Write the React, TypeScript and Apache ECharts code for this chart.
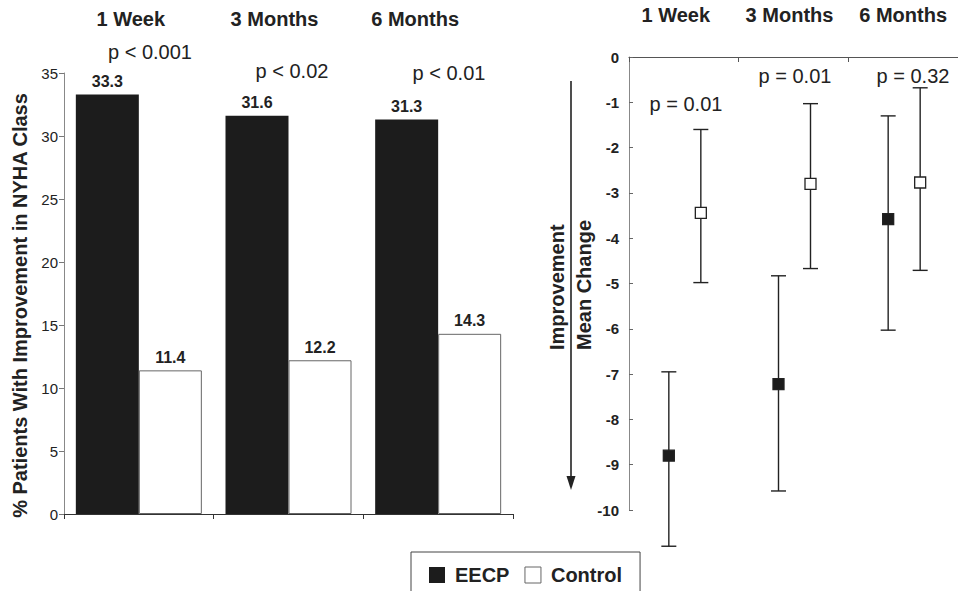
import React, { useEffect, useRef } from "react";
import * as echarts from "echarts";

const categories = ["1 Week", "3 Months", "6 Months"];
const eecpPct = [33.3, 31.6, 31.3];
const controlPct = [11.4, 12.2, 14.3];
const barPValues = ["p < 0.001", "p < 0.02", "p < 0.01"];

const eecpMean = [-8.8, -7.22, -3.58];
const eecpLow = [-10.8, -9.58, -6.03];
const eecpHigh = [-6.95, -4.83, -1.3];
const controlMean = [-3.44, -2.8, -2.77];
const controlLow = [-4.98, -4.67, -4.71];
const controlHigh = [-1.6, -1.03, -0.68];
const changePValues = ["p = 0.01", "p = 0.01", "p = 0.32"];

const FONT = "'Liberation Sans', Arial, Helvetica, sans-serif";
const INK = "#222";

function errorBarRender(offset: number, filled: boolean) {
  return (params: any, api: any) => {
    const cat = api.value(0);
    const mean = api.coord([cat, api.value(1)]);
    const lo = api.coord([cat, api.value(2)]);
    const hi = api.coord([cat, api.value(3)]);
    const x = mean[0] + offset;
    const cap = 7.5;
    const s = 11;
    const ls = { stroke: INK, lineWidth: 1.4 };
    return {
      type: "group",
      children: [
        { type: "line", shape: { x1: x, y1: hi[1], x2: x, y2: lo[1] }, style: ls },
        { type: "line", shape: { x1: x - cap, y1: hi[1], x2: x + cap, y2: hi[1] }, style: ls },
        { type: "line", shape: { x1: x - cap, y1: lo[1], x2: x + cap, y2: lo[1] }, style: ls },
        {
          type: "rect",
          shape: { x: x - s / 2, y: mean[1] - s / 2, width: s, height: s },
          style: { fill: filled ? "#1c1c1c" : "#fff", stroke: INK, lineWidth: 1.3 },
        },
      ],
    };
  };
}

function richLabels(pads: number[]) {
  const rich: any = {};
  pads.forEach((p, i) => {
    rich["c" + i] = {
      fontFamily: FONT,
      fontSize: 20,
      fontWeight: "bold",
      color: INK,
      padding: [0, p, 0, 0],
    };
  });
  return rich;
}

export default function App() {
  const ref = useRef<HTMLDivElement>(null);
  useEffect(() => {
    if (!ref.current) return;
    const chart = echarts.init(ref.current, undefined, { renderer: "svg" });
    const leftP = [
      [150, 52],
      [292, 71],
      [449, 73],
    ];
    const rightP = [
      [686, 104],
      [795, 76],
      [913, 76],
    ];
    const option: any = {
      animation: false,
      backgroundColor: "#fff",
      textStyle: { fontFamily: FONT },
      legend: {
        left: 411,
        top: 552,
        orient: "horizontal",
        borderColor: "#444",
        borderWidth: 1,
        padding: [13, 18, 13, 18],
        itemWidth: 16,
        itemHeight: 16,
        itemGap: 15,
        icon: "rect",
        selectedMode: false,
        textStyle: { fontSize: 20, fontWeight: "bold", color: INK, fontFamily: FONT, padding: [0, 0, 0, 5] },
        data: [
          { name: "EECP", itemStyle: { color: "#1c1c1c", borderWidth: 0 } },
          { name: "Control", itemStyle: { color: "#fff", borderColor: "#666", borderWidth: 1 } },
        ],
      },
      grid: [
        { left: 64, top: 73, width: 449, height: 441 },
        { left: 629, top: 57, width: 331, height: 453 },
      ],
      xAxis: [
        {
          gridIndex: 0,
          type: "category",
          data: categories,
          position: "bottom",
          boundaryGap: true,
          axisLine: { lineStyle: { color: "#333", width: 1.2 } },
          axisTick: { show: true, inside: false, length: 5, lineStyle: { color: "#333" } },
          axisLabel: { show: false },
        },
        {
          gridIndex: 0,
          type: "category",
          data: categories,
          position: "top",
          boundaryGap: true,
          axisLine: { show: false },
          axisTick: { show: false },
          axisLabel: {
            margin: 44,
            formatter: (v: string, i: number) => `{c${i}|${v}}`,
            rich: richLabels([16, 28, 46]),
          },
        },
        {
          gridIndex: 1,
          type: "category",
          data: categories,
          position: "top",
          boundaryGap: true,
          axisLine: { lineStyle: { color: "#555", width: 1.2 } },
          axisTick: { show: true, inside: true, length: 5, lineStyle: { color: "#555" } },
          axisLabel: {
            margin: 32,
            formatter: (v: string, i: number) => `{c${i}|${v}}`,
            rich: richLabels([16, 8, 0]),
          },
        },
      ],
      yAxis: [
        {
          gridIndex: 0,
          type: "value",
          min: 0,
          max: 35,
          interval: 5,
          name: "% Patients With Improvement in NYHA Class",
          nameLocation: "middle",
          nameGap: 34,
          nameRotate: 90,
          nameTextStyle: {
            fontSize: 20,
            fontWeight: "bold",
            color: INK,
            fontFamily: FONT,
            padding: [0, 24, 0, 0],
          },
          axisLine: { show: true, lineStyle: { color: "#888", width: 1 } },
          axisTick: { show: true, inside: false, length: 5, lineStyle: { color: "#777" } },
          axisLabel: { fontSize: 15, color: INK, margin: 6, fontFamily: FONT },
          splitLine: { show: false },
        },
        {
          gridIndex: 1,
          type: "value",
          min: -10,
          max: 0,
          interval: 1,
          axisLine: { show: true, lineStyle: { color: "#888", width: 1 } },
          axisTick: { show: true, inside: true, length: 4, lineStyle: { color: "#666" } },
          axisLabel: { fontSize: 15, fontWeight: "bold", color: INK, margin: 10, fontFamily: FONT },
          splitLine: { show: false },
        },
      ],
      series: [
        {
          name: "EECP",
          type: "bar",
          xAxisIndex: 0,
          yAxisIndex: 0,
          data: eecpPct,
          barWidth: 63,
          barGap: "0%",
          itemStyle: { color: "#1c1c1c" },
          label: {
            show: true,
            position: "top",
            distance: 5,
            fontSize: 16,
            fontWeight: "bold",
            color: INK,
            fontFamily: FONT,
          },
        },
        {
          name: "Control",
          type: "bar",
          xAxisIndex: 0,
          yAxisIndex: 0,
          data: controlPct,
          barWidth: 63,
          barGap: "0%",
          itemStyle: { color: "#fff", borderColor: "#666", borderWidth: 1 },
          label: {
            show: true,
            position: "top",
            distance: 5,
            fontSize: 16,
            fontWeight: "bold",
            color: INK,
            fontFamily: FONT,
          },
        },
        {
          name: "EECP change",
          type: "custom",
          xAxisIndex: 2,
          yAxisIndex: 1,
          clip: false,
          renderItem: errorBarRender(-15, true),
          encode: { x: 0, y: 1 },
          data: categories.map((_, i) => [i, eecpMean[i], eecpLow[i], eecpHigh[i]]),
        },
        {
          name: "Control change",
          type: "custom",
          xAxisIndex: 2,
          yAxisIndex: 1,
          clip: false,
          renderItem: errorBarRender(17, false),
          encode: { x: 0, y: 1 },
          data: categories.map((_, i) => [i, controlMean[i], controlLow[i], controlHigh[i]]),
        },
      ],
      graphic: [
        ...barPValues.map((t, i) => ({
          type: "text",
          x: leftP[i][0],
          y: leftP[i][1],
          style: {
            text: t,
            fontSize: 20,
            fontFamily: FONT,
            fill: INK,
            align: "center",
            verticalAlign: "middle",
          },
        })),
        ...changePValues.map((t, i) => ({
          type: "text",
          x: rightP[i][0],
          y: rightP[i][1],
          style: {
            text: t,
            fontSize: 20,
            fontFamily: FONT,
            fill: INK,
            align: "center",
            verticalAlign: "middle",
          },
        })),
        {
          type: "text",
          x: 557,
          y: 350,
          rotation: Math.PI / 2,
          style: {
            text: "Improvement",
            fontSize: 20,
            fontWeight: "bold",
            fontFamily: FONT,
            fill: INK,
            align: "left",
            verticalAlign: "middle",
          },
        },
        {
          type: "text",
          x: 584,
          y: 350,
          rotation: Math.PI / 2,
          style: {
            text: "Mean Change",
            fontSize: 20,
            fontWeight: "bold",
            fontFamily: FONT,
            fill: INK,
            align: "left",
            verticalAlign: "middle",
          },
        },
        {
          type: "line",
          shape: { x1: 571, y1: 81, x2: 571, y2: 478 },
          style: { stroke: INK, lineWidth: 1.6 },
        },
        {
          type: "polygon",
          shape: {
            points: [
              [566.5, 476],
              [575.5, 476],
              [571, 490],
            ],
          },
          style: { fill: INK },
        },
      ],
    };
    chart.setOption(option);
    return () => chart.dispose();
  }, []);
  return (
    <div
      ref={ref}
      style={{ position: "absolute", left: 0, top: 0, width: 958, height: 591 }}
    />
  );
}
